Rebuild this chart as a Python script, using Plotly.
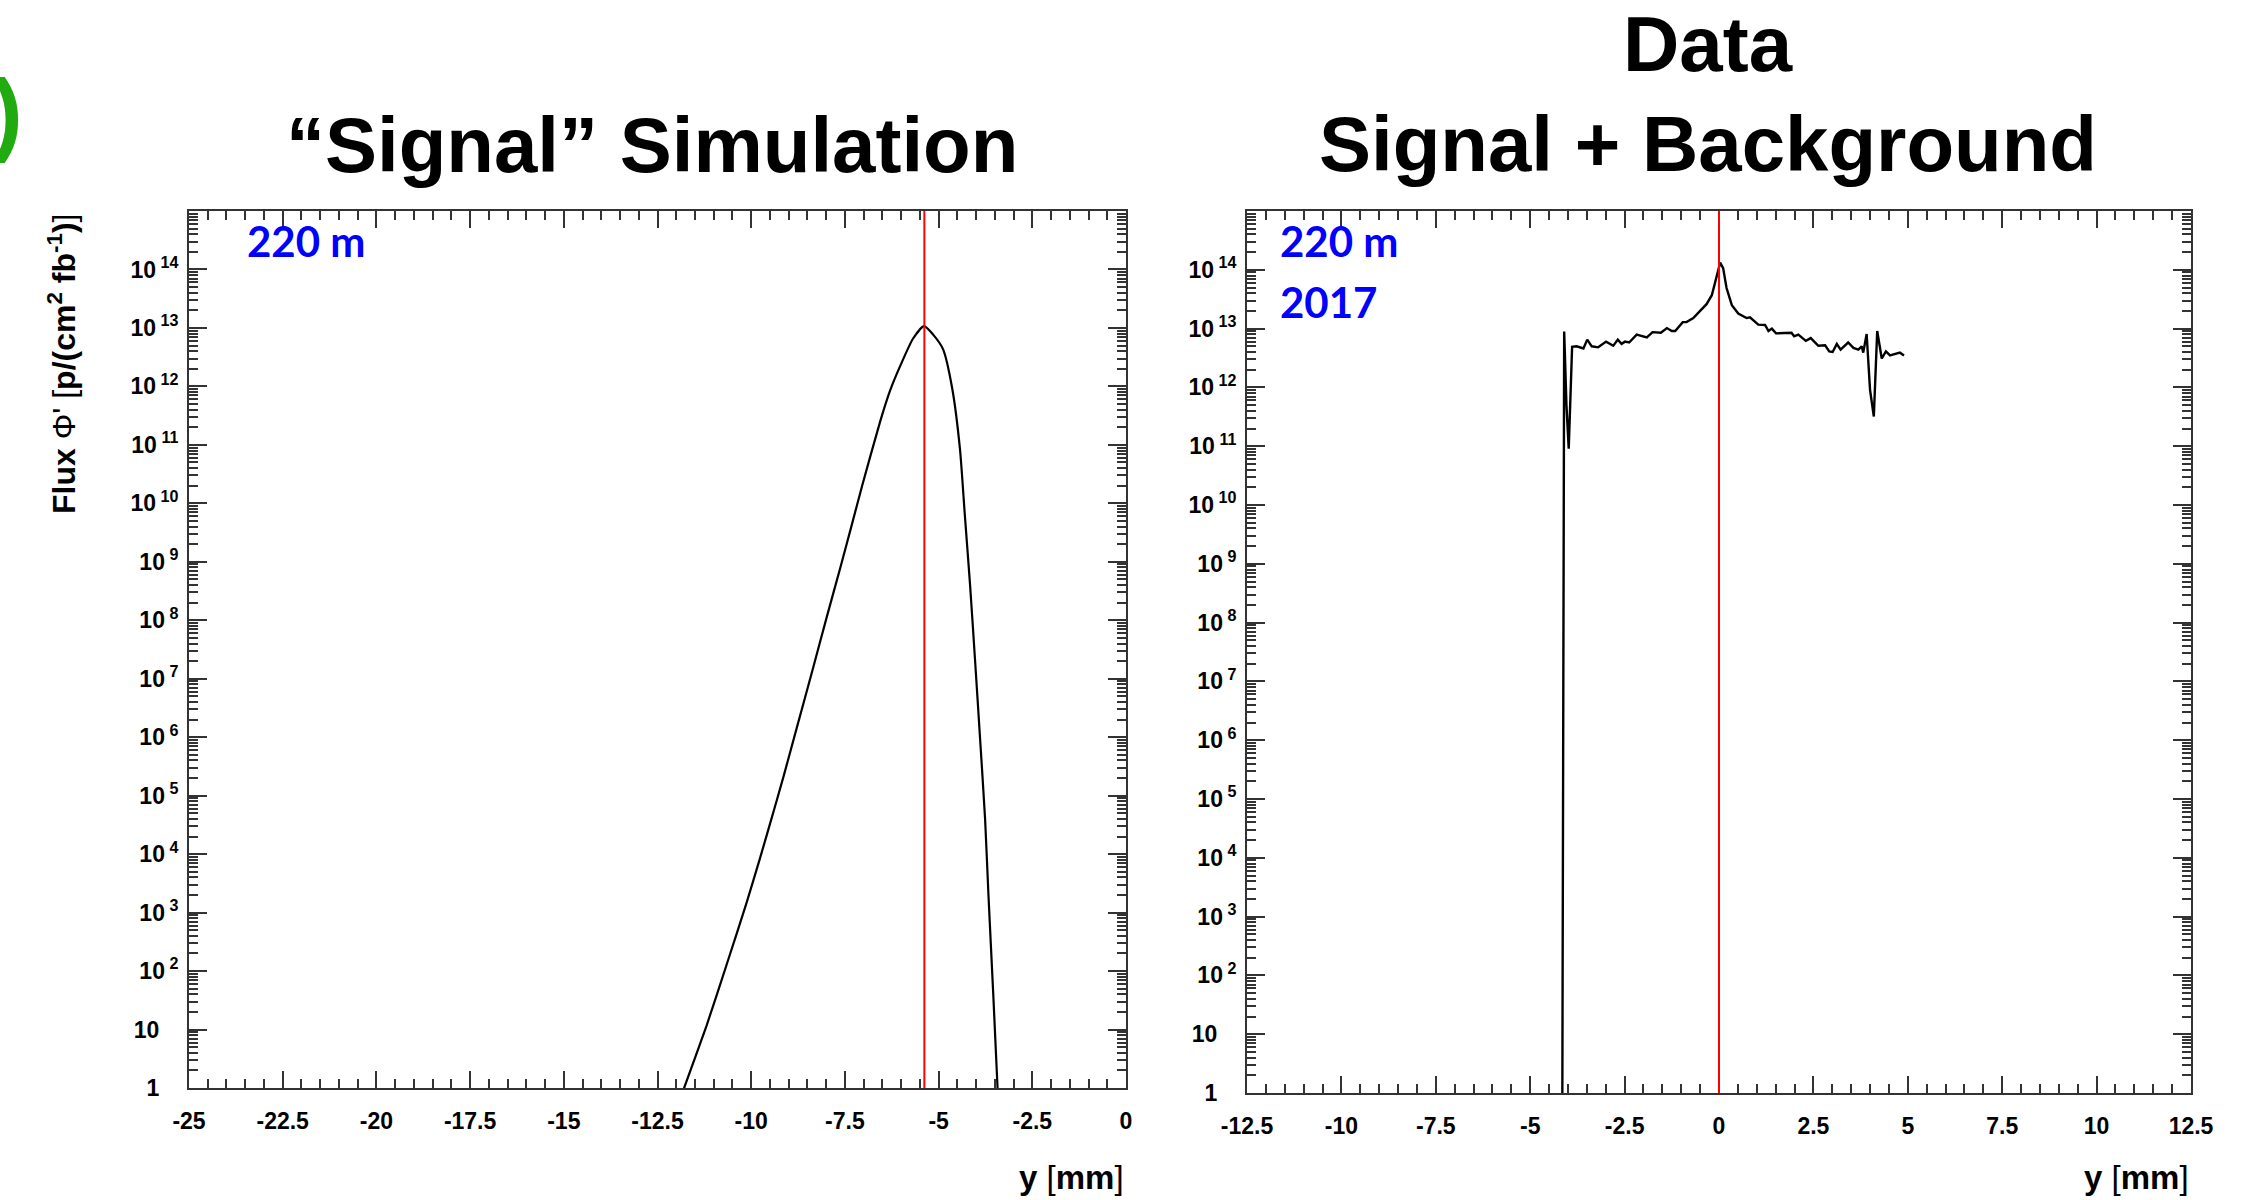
import plotly.graph_objects as go

W, H = 2249, 1200

# ---------------- data ----------------
# "Signal" simulation, 220 m
sim_y_mm = [-12.00, -11.79, -11.19, -10.65, -10.12, -9.77, -9.52, -9.14, -8.79, -8.34,
            -7.99, -7.63, -7.32, -7.04, -6.56, -6.30, -6.03, -5.68, -5.39, -5.14,
            -4.88, -4.64, -4.43, -4.30, -4.16, -4.03, -3.90, -3.76, -3.67, -3.54,
            -3.43, -3.40]
sim_flux = [0.43, 1.0, 11.7, 132, 1.5e3, 8.3e3, 2.95e4, 2.1e5, 1.4e6, 1.6e7,
            1.1e8, 7.6e8, 4.2e9, 2.0e10, 2.5e11, 8.3e11, 2.2e12, 6.6e12, 1.07e13, 7.6e12,
            4.3e12, 9.5e11, 8.5e10, 6.3e9, 4.0e8, 2.2e7, 1.1e6, 4.0e4, 2.0e3, 38,
            1.1, 0.46]

# Data (signal + background), 220 m, 2017
data_y_mm = [-4.15, -4.10, -4.04, -3.98, -3.89, -3.77, -3.59, -3.49, -3.37, -3.20,
             -2.99, -2.80, -2.68, -2.58, -2.49, -2.38, -2.18, -1.91, -1.76, -1.54,
             -1.38, -1.25, -1.16, -0.96, -0.86, -0.68, -0.50, -0.33, -0.19, -0.08,
             0.03, 0.11, 0.20, 0.34, 0.51, 0.73, 0.82, 1.04, 1.22, 1.31,
             1.40, 1.51, 1.70, 1.92, 1.99, 2.10, 2.30, 2.43, 2.63, 2.81,
             2.92, 3.01, 3.12, 3.22, 3.42, 3.56, 3.69, 3.78, 3.82, 3.91,
             4.00, 4.10, 4.19, 4.31, 4.42, 4.53, 4.79, 4.90]
data_flux = [0.5, 8.9e12, 5.0e11, 9.1e10, 4.9e12, 5.0e12, 4.6e12, 6.5e12, 5.0e12, 4.8e12,
             6.0e12, 5.1e12, 6.5e12, 5.5e12, 6.0e12, 5.8e12, 7.9e12, 7.1e12, 8.7e12, 8.5e12,
             1.02e13, 9.1e12, 9.1e12, 1.29e13, 1.29e13, 1.51e13, 2.0e13, 2.6e13, 3.7e13, 6.8e13,
             1.32e14, 1.07e14, 4.9e13, 2.5e13, 1.8e13, 1.51e13, 1.55e13, 1.17e13, 1.15e13, 9.1e12,
             1.0e13, 8.3e12, 8.5e12, 8.5e12, 7.4e12, 7.9e12, 6.2e12, 6.9e12, 5.1e12, 5.2e12,
             4.1e12, 4.0e12, 5.5e12, 4.4e12, 5.8e12, 4.7e12, 4.4e12, 5.0e12, 3.9e12, 8.1e12,
             9.1e11, 3.2e11, 9.1e12, 3.1e12, 4.1e12, 3.5e12, 3.9e12, 3.5e12]

sim_peak_mm = -5.38
data_peak_mm = 0.0

x_ticks_left = [-25, -22.5, -20, -17.5, -15, -12.5, -10, -7.5, -5, -2.5, 0]
x_labels_left = ["-25", "-22.5", "-20", "-17.5", "-15", "-12.5", "-10", "-7.5", "-5", "-2.5", "0"]
x_ticks_right = [-12.5, -10, -7.5, -5, -2.5, 0, 2.5, 5, 7.5, 10, 12.5]
x_labels_right = ["-12.5", "-10", "-7.5", "-5", "-2.5", "0", "2.5", "5", "7.5", "10", "12.5"]
y_ticks = [1, 10, 1e2, 1e3, 1e4, 1e5, 1e6, 1e7, 1e8, 1e9, 1e10, 1e11, 1e12, 1e13, 1e14]
y_labels = ["1\u00a0\u00a0\u00a0", "10\u00a0\u00a0\u00a0", "10<sup> 2</sup>", "10<sup> 3</sup>",
            "10<sup> 4</sup>", "10<sup> 5</sup>", "10<sup> 6</sup>", "10<sup> 7</sup>",
            "10<sup> 8</sup>", "10<sup> 9</sup>", "10<sup> 10</sup>", "10<sup> 11</sup>",
            "10<sup> 12</sup>", "10<sup> 13</sup>", "10<sup> 14</sup>"]
y_minor = [k * 10 ** n for n in range(0, 15) for k in range(2, 10)]

# ---------------- helpers ----------------
def px(x):
    return x / W

def py(y):
    return 1 - y / H

LINEC = "#333333"
FONT = "Liberation Sans, Arial, sans-serif"
tickfont = dict(family=FONT, size=23, color="black", weight="bold")

def xaxis_style(domain, rng, tv, tt):
    return dict(domain=domain, range=rng, tickmode="array", tickvals=tv, ticktext=tt,
                ticks="inside", ticklen=17, tickwidth=1.5, tickcolor=LINEC,
                showline=True, linewidth=2, linecolor=LINEC, mirror="ticks",
                showgrid=False, zeroline=False, tickfont=tickfont, ticklabelstandoff=11,
                automargin=False,
                minor=dict(dtick=0.5, tick0=0, ticks="inside", ticklen=9, tickwidth=1.5,
                           tickcolor=LINEC, showgrid=False),
                fixedrange=True)

def yaxis_style(domain, anchor):
    return dict(domain=domain, type="log", range=[0, 15], anchor=anchor,
                tickmode="array", tickvals=y_ticks, ticktext=y_labels,
                ticks="inside", ticklen=18, tickwidth=1.5, tickcolor=LINEC,
                showline=True, linewidth=2, linecolor=LINEC, mirror="ticks",
                showgrid=False, zeroline=False, tickfont=tickfont, ticklabelstandoff=4,
                automargin=False,
                minor=dict(tickmode="array", tickvals=y_minor, ticks="inside", ticklen=9,
                           tickwidth=1.5, tickcolor=LINEC, showgrid=False),
                fixedrange=True)

fig = go.Figure()
fig.add_trace(go.Scatter(x=sim_y_mm, y=sim_flux, mode="lines",
                         line=dict(color="black", width=2.2, shape="spline", smoothing=0.6),
                         xaxis="x", yaxis="y", showlegend=False, hoverinfo="skip"))
fig.add_trace(go.Scatter(x=data_y_mm, y=data_flux, mode="lines",
                         line=dict(color="black", width=2.4), xaxis="x2", yaxis="y2",
                         showlegend=False, hoverinfo="skip"))

fig.add_shape(type="line", xref="x", yref="y domain", x0=sim_peak_mm, x1=sim_peak_mm,
              y0=0, y1=1, line=dict(color="#ff0000", width=2))
fig.add_shape(type="line", xref="x2", yref="y2 domain", x0=data_peak_mm, x1=data_peak_mm,
              y0=0, y1=1, line=dict(color="#ff0000", width=2))

fig.update_layout(
    width=W, height=H, margin=dict(l=0, r=0, t=0, b=0, pad=0, autoexpand=False),
    paper_bgcolor="white", plot_bgcolor="white", showlegend=False,
    xaxis=xaxis_style([px(189), px(1126)], [-25, 0], x_ticks_left, x_labels_left) | dict(anchor="y"),
    yaxis=yaxis_style([py(1088), py(211)], "x"),
    xaxis2=xaxis_style([px(1247), px(2191)], [-12.5, 12.5], x_ticks_right, x_labels_right) | dict(anchor="y2"),
    yaxis2=yaxis_style([py(1093), py(211)], "x2"),
)

title_font = dict(family=FONT, size=78, color="black", weight="bold")
blue_font = dict(family="Lato, Open Sans, sans-serif", size=42, color="#0000ff", weight="bold")
axis_title_font = dict(family=FONT, size=33, color="black")

ann = [
    dict(text="“Signal” Simulation", x=px(652), y=py(145), font=title_font,
         xanchor="center", yanchor="middle"),
    dict(text="Data", x=px(1708), y=py(44), font=title_font,
         xanchor="center", yanchor="middle"),
    dict(text="Signal + Background", x=px(1708), y=py(144), font=title_font,
         xanchor="center", yanchor="middle"),
    dict(text=")", x=px(25), y=py(112), font=dict(family=FONT, size=92, color="#22aa11", weight="bold"),
         xanchor="right", yanchor="middle"),
    dict(text="220 m", x=px(245), y=py(241), font=blue_font, xanchor="left", yanchor="middle"),
    dict(text="220 m", x=px(1278), y=py(241), font=blue_font, xanchor="left", yanchor="middle"),
    dict(text="2017", x=px(1278), y=py(302), font=blue_font, xanchor="left", yanchor="middle"),
    dict(text="<b>Flux</b> Φ' [<b>p/(cm<sup>2</sup> fb<sup>-1</sup>)</b>]", x=px(62), y=py(364),
         textangle=-90, font=dict(family=FONT, size=32, color="black"),
         xanchor="center", yanchor="middle"),
    dict(text="<b>y</b> [<b>mm</b>]", x=px(1126), y=py(1177), font=axis_title_font,
         xanchor="right", yanchor="middle"),
    dict(text="<b>y</b> [<b>mm</b>]", x=px(2191), y=py(1177), font=axis_title_font,
         xanchor="right", yanchor="middle"),
]
for a in ann:
    a.update(xref="paper", yref="paper", showarrow=False)
fig.update_layout(annotations=ann)

fig.write_html("out.html")
